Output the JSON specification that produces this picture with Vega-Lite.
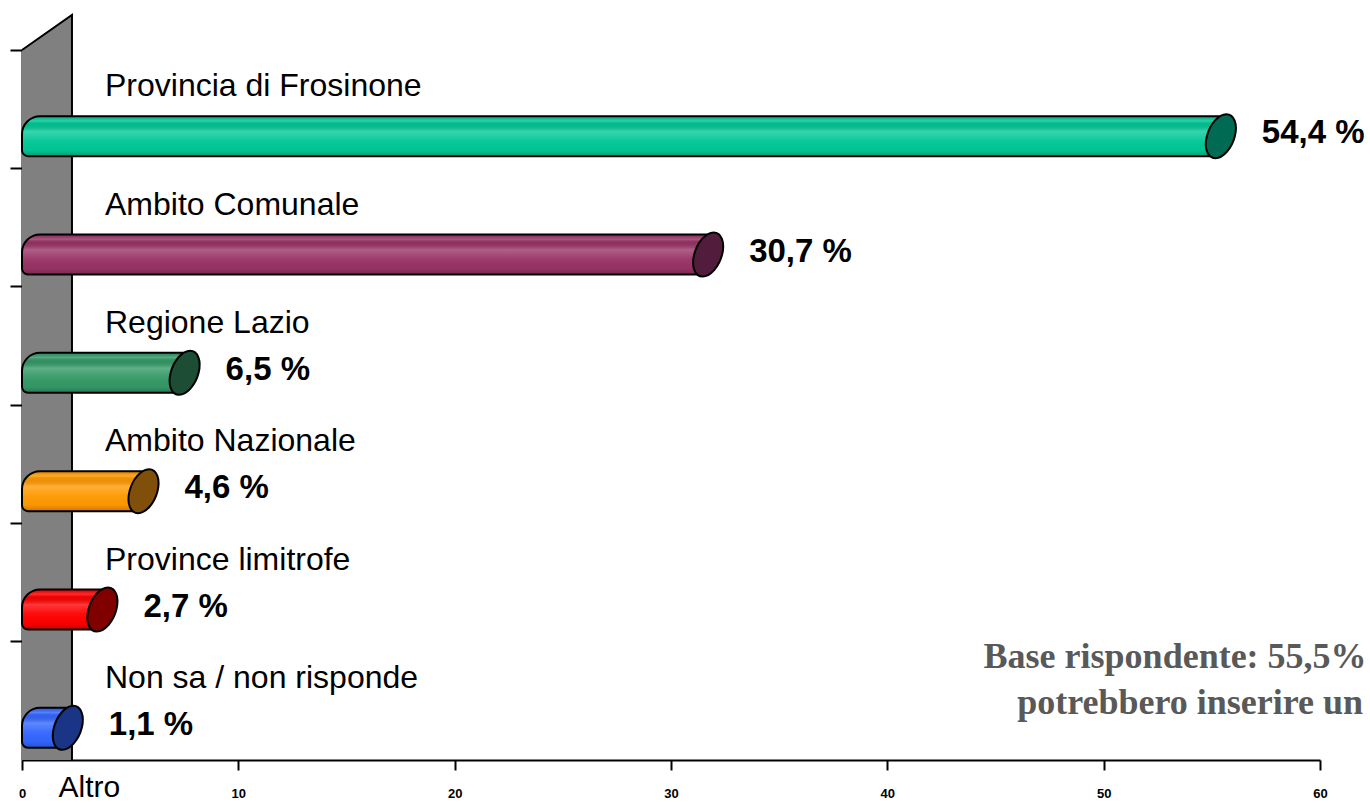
{
  "$schema": "https://vega.github.io/schema/vega-lite/v6.json",
  "autosize": "none",
  "width": 1298,
  "height": 710,
  "padding": {"left": 22, "top": 50, "right": 50, "bottom": 43},
  "background": "white",
  "config": {"view": {"stroke": null}, "font": "Liberation Sans"},
  "datasets": {
    "shares": [
      {"categoria": "Provincia di Frosinone", "valore": 54.4, "etichetta": "54,4 %"},
      {"categoria": "Ambito Comunale", "valore": 30.7, "etichetta": "30,7 %"},
      {"categoria": "Regione Lazio", "valore": 6.5, "etichetta": "6,5 %"},
      {"categoria": "Ambito Nazionale", "valore": 4.6, "etichetta": "4,6 %"},
      {"categoria": "Province limitrofe", "valore": 2.7, "etichetta": "2,7 %"},
      {"categoria": "Non sa / non risponde", "valore": 1.1, "etichetta": "1,1 %"}
    ],
    "wallTop": [{"wx": 0, "wy": 0}, {"wx": 2.31, "wy": 1}, {"wx": 2.31, "wy": 0}],
    "wall": [{"elemento": "parete"}],
    "note": [{"riga1": "Base rispondente: 55,5%", "riga2": "potrebbero inserire un"}]
  },
  "resolve": {"scale": {"y": "independent"}},
  "layer": [
    {
      "layer": [
        {
          "data": {"name": "wall"},
          "mark": {"type": "rect", "fill": "#808080"},
          "encoding": {
            "x": {"datum": 0, "type": "quantitative", "scale": {"domain": [0, 60], "nice": false},
              "axis": {"values": [0, 10, 20, 30, 40, 50, 60], "grid": false, "domainColor": "black", "domainWidth": 2, "tickColor": "black", "tickWidth": 2, "tickSize": 10, "labelFontSize": 13, "labelFontWeight": "bold", "labelColor": "black", "labelPadding": 17, "labelFlush": false,
                "title": "Altro", "titleFontSize": 30, "titleFontWeight": "normal", "titleColor": "black", "titleAnchor": "start", "titleAlign": "left", "titleBaseline": "alphabetic", "titleX": 36, "titleY": 36}},
            "x2": {"datum": 2.31}
          }
        },
        {
          "data": {"name": "wall"},
          "mark": {"type": "rule", "color": "black", "strokeWidth": 2},
          "encoding": {"x": {"datum": 2.31, "type": "quantitative"}}
        },
        {
          "data": {"name": "shares"},
          "mark": {"type": "bar", "height": 40, "yOffset": 27, "xOffset": 20, "cornerRadiusTopLeft": 18, "cornerRadiusBottomLeft": 6},
          "encoding": {
            "y": {"field": "categoria", "type": "nominal", "sort": null,
              "scale": {"paddingInner": 0, "paddingOuter": 0},
              "axis": {"orient": "left", "labels": false, "title": null, "bandPosition": 0, "tickSize": 12, "tickWidth": 2, "tickColor": "black", "domainColor": "black", "domainWidth": 2, "grid": false}},
            "x": {"field": "valore", "type": "quantitative"},
            "x2": {"datum": 0},
            "color": {"field": "categoria", "type": "nominal", "sort": null, "legend": null,
              "scale": {"domain": ["Provincia di Frosinone", "Ambito Comunale", "Regione Lazio", "Ambito Nazionale", "Province limitrofe", "Non sa / non risponde"],
                "range": ["#00C896", "#993366", "#339966", "#FF9900", "#FF0000", "#3366FF"]}}
          }
        },
        {
          "data": {"name": "shares"},
          "mark": {"type": "bar", "height": 40, "yOffset": 27, "xOffset": 20, "cornerRadiusTopLeft": 18, "cornerRadiusBottomLeft": 6,
            "stroke": "black", "strokeWidth": 2,
            "fill": {"gradient": "linear", "x1": 0, "y1": 0, "x2": 0, "y2": 1,
              "stops": [
                {"offset": 0, "color": "rgba(0,0,0,0.10)"},
                {"offset": 0.12, "color": "rgba(255,255,255,0.18)"},
                {"offset": 0.2, "color": "rgba(0,0,0,0.06)"},
                {"offset": 0.38, "color": "rgba(255,255,255,0.22)"},
                {"offset": 0.6, "color": "rgba(255,255,255,0.05)"},
                {"offset": 0.85, "color": "rgba(0,0,0,0.02)"},
                {"offset": 1, "color": "rgba(0,0,0,0.22)"}
              ]}},
          "encoding": {
            "y": {"field": "categoria", "type": "nominal", "sort": null},
            "x": {"field": "valore", "type": "quantitative"},
            "x2": {"datum": 0}
          }
        },
        {
          "data": {"name": "shares"},
          "mark": {"type": "point", "filled": true, "opacity": 1, "size": 1936, "xOffset": 22, "yOffset": 27,
            "stroke": "black", "strokeWidth": 2, "strokeOpacity": 1,
            "shape": "M 0.636 0 C 0.498 0.552 0.101 1 -0.25 1 C -0.601 1 -0.774 0.552 -0.636 0 C -0.498 -0.552 -0.101 -1 0.25 -1 C 0.601 -1 0.774 -0.552 0.636 0 Z"},
          "encoding": {
            "y": {"field": "categoria", "type": "nominal", "sort": null},
            "x": {"field": "valore", "type": "quantitative"},
            "fill": {"field": "categoria", "type": "nominal", "sort": null, "legend": null,
              "scale": {"domain": ["Provincia di Frosinone", "Ambito Comunale", "Regione Lazio", "Ambito Nazionale", "Province limitrofe", "Non sa / non risponde"],
                "range": ["#006B52", "#521C3C", "#1E4D35", "#80500A", "#800000", "#1A3585"]}}
          }
        },
        {
          "data": {"name": "shares"},
          "mark": {"type": "text", "align": "left", "baseline": "alphabetic", "dx": 83, "yOffset": -13, "fontSize": 32, "font": "Liberation Sans", "color": "black"},
          "encoding": {
            "y": {"field": "categoria", "type": "nominal", "sort": null},
            "x": {"datum": 0, "type": "quantitative"},
            "text": {"field": "categoria"}
          }
        },
        {
          "data": {"name": "shares"},
          "mark": {"type": "text", "align": "left", "baseline": "middle", "dx": 63, "yOffset": 24, "fontSize": 33, "fontWeight": "bold", "font": "Liberation Sans", "color": "black"},
          "encoding": {
            "y": {"field": "categoria", "type": "nominal", "sort": null},
            "x": {"field": "valore", "type": "quantitative"},
            "text": {"field": "etichetta"}
          }
        },
        {
          "data": {"name": "note"},
          "mark": {"type": "text", "align": "left", "baseline": "middle", "yOffset": -44, "fontSize": 36, "fontWeight": "bold", "font": "Liberation Serif", "color": "#595959"},
          "encoding": {
            "y": {"datum": "Non sa / non risponde", "type": "nominal"},
            "x": {"datum": 44.45, "type": "quantitative"},
            "text": {"field": "riga1"}
          }
        },
        {
          "data": {"name": "note"},
          "mark": {"type": "text", "align": "left", "baseline": "middle", "yOffset": 2, "fontSize": 36, "fontWeight": "bold", "font": "Liberation Serif", "color": "#595959"},
          "encoding": {
            "y": {"datum": "Non sa / non risponde", "type": "nominal"},
            "x": {"datum": 46.0, "type": "quantitative"},
            "text": {"field": "riga2"}
          }
        }
      ]
    },
    {
      "data": {"name": "wallTop"},
      "layer": [
        {
          "mark": {"type": "area", "fill": "#808080"},
          "encoding": {
            "x": {"field": "wx", "type": "quantitative"},
            "y": {"field": "wy", "type": "quantitative", "scale": {"domain": [0, 1], "range": [0, -35]}, "axis": null}
          }
        },
        {
          "mark": {"type": "line", "color": "black", "strokeWidth": 2},
          "encoding": {
            "x": {"field": "wx", "type": "quantitative"},
            "y": {"field": "wy", "type": "quantitative"}
          }
        }
      ]
    }
  ]
}
